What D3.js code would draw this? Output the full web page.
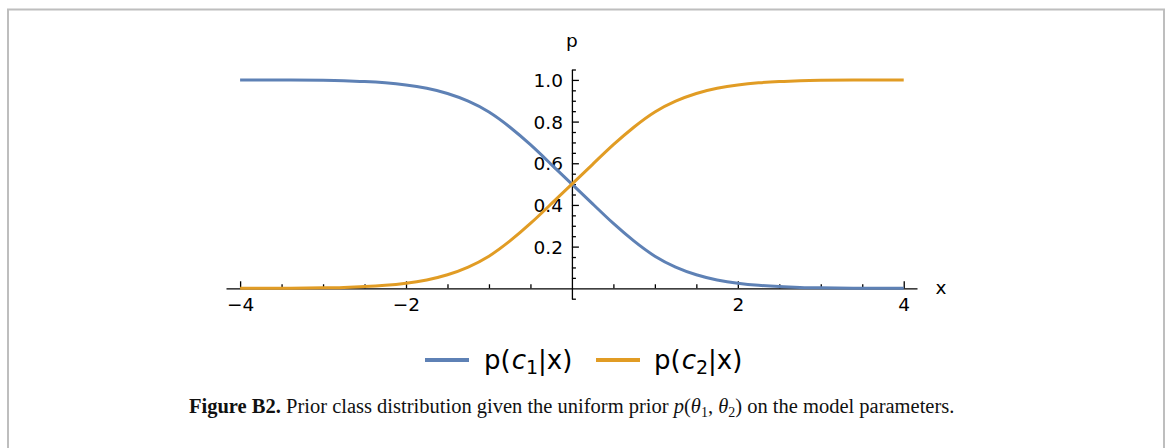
<!DOCTYPE html>
<html>
<head>
<meta charset="utf-8">
<script src="https://cdn.jsdelivr.net/npm/d3@7"></script>
<style>
  html, body { margin: 0; padding: 0; background: #fff; }
  svg { display: block; }
</style>
</head>
<body>
<svg id="chart" width="1167" height="448"></svg>
<script>
// Sample points along x and the two class probabilities read at each point
const xs = [-4, -3.5, -3, -2.75, -2.5, -2.25, -2, -1.75, -1.5, -1.25, -1, -0.75, -0.5, -0.25,
            0, 0.25, 0.5, 0.75, 1, 1.25, 1.5, 1.75, 2, 2.25, 2.5, 2.75, 3, 3.5, 4];
const pC1 = [1.000, 0.9995, 0.998, 0.996, 0.992, 0.986, 0.976, 0.960, 0.935, 0.898, 0.846, 0.774, 0.689, 0.595,
             0.500, 0.405, 0.311, 0.226, 0.154, 0.102, 0.065, 0.040, 0.024, 0.014, 0.008, 0.004, 0.002, 0.0005, 0.000];
const pC2 = [0.000, 0.0005, 0.002, 0.004, 0.008, 0.014, 0.024, 0.040, 0.065, 0.102, 0.154, 0.226, 0.311, 0.405,
             0.500, 0.595, 0.689, 0.774, 0.846, 0.898, 0.935, 0.960, 0.976, 0.986, 0.992, 0.996, 0.998, 0.9995, 1.000];

const xMajorTicks = [-4, -2, 2, 4];
const xMinorTicks = [-3.5, -3, -2.5, -1.5, -1, -0.5, 0.5, 1, 1.5, 2.5, 3, 3.5];
const yMajorTicks = [0.2, 0.4, 0.6, 0.8, 1.0];
const yMinorTicks = [-0.05, 0.05, 0.1, 0.15, 0.25, 0.3, 0.35, 0.45, 0.5, 0.55, 0.65, 0.7, 0.75, 0.85, 0.9, 0.95, 1.05];

const seriesNames = ["c1", "c2"];
const colors = { c1: "#5e81b5", c2: "#e19c24" };

const svg = d3.select("#chart");

// Light frame around the figure
svg.append("rect")
  .attr("x", 8).attr("y", 9.5)
  .attr("width", 1156).attr("height", 460)
  .attr("fill", "none").attr("stroke", "#bebebe").attr("stroke-width", 2);

const x = d3.scaleLinear().domain([-4.17, 4.16]).range([226, 917]);
const y = d3.scaleLinear().domain([-0.05, 1.05]).range([298.7, 69.5]);

const axisFont = "'DejaVu Sans', sans-serif";

// x axis: major ticks with labels, minor ticks without
const gx = svg.append("g").attr("transform", `translate(0,${y(0)})`);
gx.call(d3.axisBottom(x).tickValues(xMajorTicks).tickSize(-7).tickSizeOuter(0).tickPadding(8)
  .tickFormat(d3.format("d")));
gx.append("g").call(d3.axisBottom(x).tickValues(xMinorTicks).tickSize(-4).tickSizeOuter(0).tickFormat(""))
  .select(".domain").remove();

// y axis through x = 0, ticks pointing right, labels on the left
const gy = svg.append("g").attr("transform", `translate(${x(0)},0)`);
gy.call(d3.axisLeft(y).tickValues(yMajorTicks).tickSize(-7).tickSizeOuter(0).tickPadding(9)
  .tickFormat(d3.format(".1f")));
gy.append("g").call(d3.axisLeft(y).tickValues(yMinorTicks).tickSize(-4).tickSizeOuter(0).tickFormat(""))
  .select(".domain").remove();

svg.selectAll(".domain, .tick line").attr("stroke", "#000").attr("stroke-width", 1.3);
svg.selectAll(".tick text").attr("font-family", axisFont).attr("font-size", 18.5).attr("fill", "#000");
gy.selectAll(".tick text").attr("dy", "0.36em");
gx.selectAll(".tick text").attr("dy", "0.8em");

// axis names
svg.append("text").attr("x", x(0)).attr("y", 47)
  .attr("text-anchor", "middle").attr("font-family", axisFont).attr("font-size", 18.5).text("p");
svg.append("text").attr("x", 941).attr("y", y(0) + 5.5)
  .attr("text-anchor", "middle").attr("font-family", axisFont).attr("font-size", 18.5).text("x");

// curves
const line = d3.line().x(d => x(d[0])).y(d => y(d[1])).curve(d3.curveNatural);
const series = { c1: pC1, c2: pC2 };
seriesNames.forEach(name => {
  svg.append("path")
    .datum(xs.map((v, i) => [v, series[name][i]]))
    .attr("fill", "none")
    .attr("stroke", colors[name])
    .attr("stroke-width", 3)
    .attr("d", line);
});

// legend
const legendItems = [
  { name: "c1", sub: "1", lx: 425, tx: 484 },
  { name: "c2", sub: "2", lx: 596, tx: 654 }
];
legendItems.forEach(it => {
  svg.append("line")
    .attr("x1", it.lx).attr("x2", it.lx + 44).attr("y1", 360).attr("y2", 360)
    .attr("stroke", colors[it.name]).attr("stroke-width", 4);
  const t = svg.append("text").attr("x", it.tx).attr("y", 369)
    .attr("font-family", axisFont).attr("font-size", 26).attr("fill", "#000");
  t.append("tspan").text("p(");
  t.append("tspan").attr("font-style", "italic").attr("dx", 1).text("c");
  t.append("tspan").attr("font-size", 19).attr("dy", 5).text(it.sub);
  t.append("tspan").attr("dy", -5).text("|x)");
});

// caption
const cap = svg.append("text").attr("x", 189).attr("y", 413)
  .attr("font-family", "'Liberation Serif', serif").attr("font-size", 20.5).attr("fill", "#111");
cap.append("tspan").attr("font-weight", "bold").text("Figure B2.");
cap.append("tspan").text(" Prior class distribution given the uniform prior ");
cap.append("tspan").attr("font-style", "italic").text("p");
cap.append("tspan").text("(");
cap.append("tspan").attr("font-style", "italic").text("θ");
cap.append("tspan").attr("font-size", 14).attr("dy", 4).text("1");
cap.append("tspan").attr("dy", -4).text(", ");
cap.append("tspan").attr("font-style", "italic").text("θ");
cap.append("tspan").attr("font-size", 14).attr("dy", 4).text("2");
cap.append("tspan").attr("dy", -4).text(")");
cap.append("tspan").text(" on the model parameters.");
</script>
</body>
</html>
